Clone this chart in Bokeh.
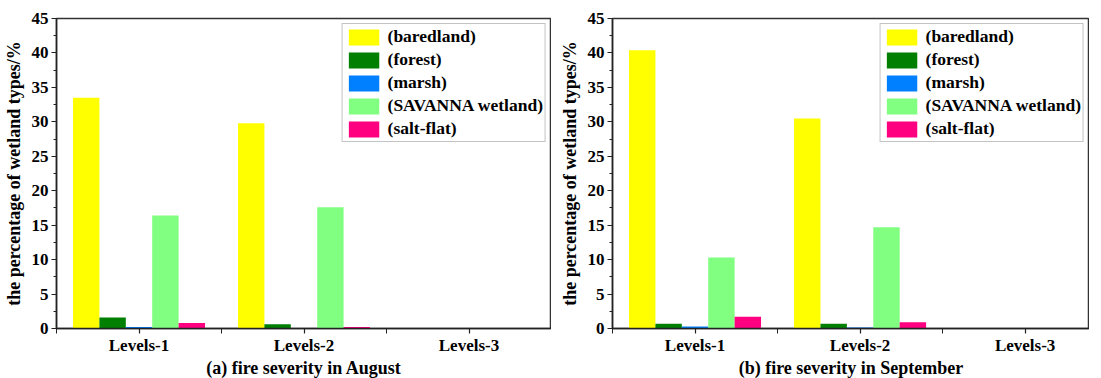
from bokeh.plotting import figure
from bokeh.models import ColumnDataSource, Range1d, FixedTicker, SingleIntervalTicker, Legend, LegendItem
from bokeh.layouts import row
from bokeh.embed import file_html
from bokeh.resources import INLINE

levels = ["Levels-1", "Levels-2", "Levels-3"]
types = ["(baredland)", "(forest)", "(marsh)", "(SAVANNA wetland)", "(salt-flat)"]
colors = ["#FFFF00", "#007F00", "#0080FF", "#80FF80", "#FF0080"]

# (a) August
aug_baredland = [33.5, 29.8, 0.0]
aug_forest = [1.6, 0.6, 0.0]
aug_marsh = [0.2, 0.05, 0.0]
aug_savanna = [16.4, 17.6, 0.0]
aug_saltflat = [0.8, 0.2, 0.0]

# (b) September
sep_baredland = [40.4, 30.5, 0.0]
sep_forest = [0.7, 0.7, 0.0]
sep_marsh = [0.3, 0.15, 0.0]
sep_savanna = [10.3, 14.7, 0.0]
sep_saltflat = [1.7, 0.9, 0.0]

FONT = "'Liberation Serif'"
BAR_W = 0.16


def make_panel(series, xtitle, border_left, frame_width, x_end):
    p = figure(frame_width=frame_width, frame_height=310,
               min_border_left=border_left, min_border_right=0,
               min_border_top=18, min_border_bottom=44,
               x_range=Range1d(0, x_end), y_range=Range1d(0, 45),
               output_backend="svg", toolbar_location=None,
               background_fill_color="white", border_fill_color="white")
    p.grid.visible = False
    p.outline_line_color = "#333333"
    p.outline_line_width = 1.5

    centers = [i + 0.5 for i in range(len(levels))]
    items = []
    for j, (name, vals, col) in enumerate(zip(types, series, colors)):
        off = (j - (len(types) - 1) / 2) * BAR_W
        src = ColumnDataSource(dict(x=[c + off for c in centers], top=vals))
        r = p.vbar(x="x", top="top", width=BAR_W, source=src,
                   fill_color=col, line_color=None)
        items.append(LegendItem(label=name, renderers=[r]))

    legend = Legend(items=items, location="top_right",
                    label_text_font=FONT, label_text_font_style="bold",
                    label_text_font_size="17.5px", label_text_color="black",
                    glyph_width=38, glyph_height=20, label_height=20,
                    label_standoff=5, spacing=2, padding=2, margin=5,
                    border_line_color="#888888", border_line_width=1,
                    background_fill_alpha=1.0)
    p.add_layout(legend)

    xa = p.xaxis[0]
    xa.ticker = FixedTicker(ticks=centers, minor_ticks=[0, 1, 2, 3])
    xa.major_label_overrides = {c: lv for c, lv in zip(centers, levels)}
    xa.axis_label = xtitle
    ya = p.yaxis[0]
    ya.ticker = SingleIntervalTicker(interval=5, num_minor_ticks=2)
    ya.axis_label = "the percentage of wetland types/%"

    for ax in (xa, ya):
        ax.axis_line_color = "#222222"
        ax.axis_line_width = 1.5
        ax.major_tick_line_color = "#222222"
        ax.minor_tick_line_color = "#222222"
        ax.major_tick_line_width = 1.2
        ax.minor_tick_line_width = 1.0
        ax.major_tick_in = 0
        ax.minor_tick_in = 0
        ax.major_tick_out = 5
        ax.minor_tick_out = 3
        ax.major_label_text_font = FONT
        ax.major_label_text_font_style = "bold"
        ax.major_label_text_font_size = "17px"
        ax.major_label_text_color = "black"
        ax.axis_label_text_font = FONT
        ax.axis_label_text_font_style = "bold"
        ax.axis_label_text_font_size = "18px"
        ax.axis_label_text_color = "black"
    xa.minor_tick_out = 5
    xa.major_label_standoff = 2
    xa.axis_label_standoff = 0
    ya.major_label_standoff = 3
    ya.axis_label_standoff = 5
    return p


p1 = make_panel([aug_baredland, aug_forest, aug_marsh, aug_savanna, aug_saltflat],
                "(a) fire severity in August", 50, 495, 3.0)
p2 = make_panel([sep_baredland, sep_forest, sep_marsh, sep_savanna, sep_saltflat],
                "(b) fire severity in September", 61, 477, 2.89)

layout = row(p1, p2)
open("out.html", "w").write(file_html(layout, INLINE))
